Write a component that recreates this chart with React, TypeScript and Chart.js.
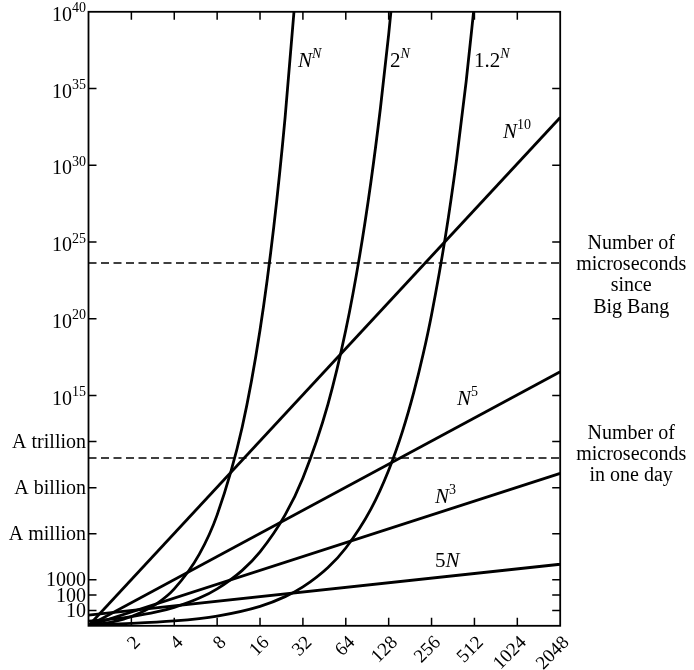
import { useEffect, useRef } from 'react';
import { Chart, registerables } from 'chart.js';

Chart.register(...registerables);

const FONT = '"Liberation Serif", "Times New Roman", serif';

// Axis ticks
const xTickValues = [2, 4, 8, 16, 32, 64, 128, 256, 512, 1024, 2048];
const xTickLabels = ['2', '4', '8', '16', '32', '64', '128', '256', '512', '1024', '2048'];
const yTickValues = [10, 100, 1000, 1e6, 1e9, 1e12, 1e15, 1e20, 1e25, 1e30, 1e35, 1e40];
const yTickLabels = ['10', '100', '1000', 'A million', 'A billion', 'A trillion', '10^15', '10^20', '10^25', '10^30', '10^35', '10^40'];

// Power functions (straight lines on log-log): values at N = 1 and N = 2048
const powerN = [1, 2048];
const fiveN = [5, 10240];
const nCubed = [1, 8.59e9];
const nFifth = [1, 3.6e16];
const nTenth = [1, 1.3e33];

// N^N
const nnN = [1, 1.5, 2, 3, 4, 6, 8, 12, 16, 20, 24, 28, 32];
const nnValues = [1, 1.84, 4, 27, 256, 46656, 1.68e7, 8.92e12, 1.84e19, 1.05e26, 1.33e33, 3.33e40, 1.46e48];

// 2^N
const twoN = [1, 1.5, 2, 3, 4, 6, 8, 12, 16, 24, 32, 48, 64, 80, 96, 112, 128, 144];
const twoValues = [2, 2.83, 4, 8, 16, 64, 256, 4096, 65536, 1.68e7, 4.29e9, 2.81e14, 1.84e19, 1.21e24, 7.92e28, 5.19e33, 3.4e38, 2.23e43];

// 1.2^N
const onePointTwoN = [1, 2, 4, 8, 16, 24, 32, 48, 64, 96, 128, 160, 192, 224, 256, 320, 384, 448, 512];
const onePointTwoValues = [1.2, 1.44, 2.07, 4.3, 18.5, 79.5, 342, 6320, 1.17e5, 3.99e7, 1.37e10, 4.67e12, 1.6e15, 5.45e17, 1.86e20, 2.18e25, 2.54e30, 2.96e35, 3.47e40];

// Reference lines
const bigBangMicroseconds = 4.3e23;
const dayMicroseconds = 8.64e10;
const bigBangLabel = ['Number of', 'microseconds', 'since', 'Big Bang'];
const dayLabel = ['Number of', 'microseconds', 'in one day'];

// Curve labels (anchored in data space: N, value)
const curveLabels = ['N^N', '2^N', '1.2^N', 'N^10', 'N^5', 'N^3', '5N'];
const curveLabelN = [29.6, 130.8, 508.5, 812.8, 386, 270.7, 270.7];
const curveLabelY = [2.5e36, 2.5e36, 2.5e36, 6.0e31, 2.4e14, 1.0e8, 6760];

type RichOpt = { size: number; supSize: number; raise: number; align: 'left' | 'right'; italicLetters: boolean };

function drawRich(ctx: CanvasRenderingContext2D, text: string, x: number, y: number, opt: RichOpt) {
  const idx = text.indexOf('^');
  const base = idx >= 0 ? text.slice(0, idx) : text;
  const sup = idx >= 0 ? text.slice(idx + 1) : '';
  const runs: { t: string; it: boolean; sup: boolean }[] = [];
  const split = (s: string, isSup: boolean) => {
    let cur = '';
    let curIt = false;
    for (const ch of s) {
      const it = opt.italicLetters && /[A-Za-z]/.test(ch);
      if (cur && it !== curIt) {
        runs.push({ t: cur, it: curIt, sup: isSup });
        cur = '';
      }
      cur += ch;
      curIt = it;
    }
    if (cur) runs.push({ t: cur, it: curIt, sup: isSup });
  };
  split(base, false);
  split(sup, true);
  const fontOf = (r: { it: boolean; sup: boolean }) =>
    `${r.it ? 'italic ' : ''}${r.sup ? opt.supSize : opt.size}px ${FONT}`;
  let total = 0;
  const widths = runs.map((r) => {
    ctx.font = fontOf(r);
    const w = ctx.measureText(r.t).width;
    total += w;
    return w;
  });
  let cx = opt.align === 'right' ? x - total : x;
  ctx.textAlign = 'left';
  ctx.textBaseline = 'alphabetic';
  runs.forEach((r, i) => {
    ctx.font = fontOf(r);
    ctx.fillText(r.t, cx, r.sup ? y - opt.raise : y);
    cx += widths[i];
  });
}

export default function App() {
  const ref = useRef<HTMLCanvasElement>(null);

  useEffect(() => {
    const canvas = ref.current;
    if (!canvas) return;
    const pts = (xs: number[], ys: number[]) => xs.map((x, i) => ({ x, y: ys[i] }));
    const curve = (label: string, data: { x: number; y: number }[]) => ({
      label,
      data,
      borderColor: '#000',
      borderWidth: 2.8,
      pointRadius: 0,
      fill: false,
      cubicInterpolationMode: 'monotone' as const,
    });
    const dashed = (label: string, v: number) => ({
      label,
      data: pts(powerN, [v, v]),
      borderColor: '#000',
      borderWidth: 1.5,
      borderDash: [8, 4.5],
      pointRadius: 0,
      fill: false,
    });

    const datasets = [
      curve('5N', pts(powerN, fiveN)),
      curve('N^3', pts(powerN, nCubed)),
      curve('N^5', pts(powerN, nFifth)),
      curve('N^10', pts(powerN, nTenth)),
      curve('N^N', pts(nnN, nnValues)),
      curve('2^N', pts(twoN, twoValues)),
      curve('1.2^N', pts(onePointTwoN, onePointTwoValues)),
      dashed('Big Bang', bigBangMicroseconds),
      dashed('One day', dayMicroseconds),
    ];

    const overlay = {
      id: 'overlay',
      afterDraw(chart: any) {
        const { ctx, chartArea } = chart;
        const { left, right, top, bottom } = chartArea;
        const xs = chart.scales.x;
        const ys = chart.scales.y;
        ctx.save();
        ctx.strokeStyle = '#000';
        ctx.fillStyle = '#000';
        // frame
        ctx.lineWidth = 1.8;
        ctx.strokeRect(left, top, right - left, bottom - top);
        // inward ticks
        ctx.lineWidth = 1.5;
        ctx.beginPath();
        xTickValues.forEach((v) => {
          if (v >= 2048) return;
          const px = xs.getPixelForValue(v);
          ctx.moveTo(px, bottom);
          ctx.lineTo(px, bottom - 8);
          ctx.moveTo(px, top);
          ctx.lineTo(px, top + 8);
        });
        yTickValues.forEach((v) => {
          if (v >= 1e40) return;
          const py = ys.getPixelForValue(v);
          ctx.moveTo(left, py);
          ctx.lineTo(left + 8, py);
          ctx.moveTo(right, py);
          ctx.lineTo(right - 8, py);
        });
        ctx.stroke();

        // x tick labels, rotated
        ctx.font = `19px ${FONT}`;
        ctx.textAlign = 'right';
        ctx.textBaseline = 'middle';
        xTickValues.forEach((v, i) => {
          const px = xs.getPixelForValue(v);
          ctx.save();
          ctx.translate(px + 6.3, bottom + 14);
          ctx.rotate(-Math.PI / 4);
          ctx.fillText(xTickLabels[i], 0, 0);
          ctx.restore();
        });

        // y tick labels
        yTickValues.forEach((v, i) => {
          const py = ys.getPixelForValue(v);
          const label = yTickLabels[i];
          const hasSup = label.includes('^');
          drawRich(ctx, label, left - 2.5, py + (hasSup ? 9 : 6.6), {
            size: 20,
            supSize: 14,
            raise: 8.5,
            align: 'right',
            italicLetters: false,
          });
        });

        // curve labels
        curveLabels.forEach((t, i) => {
          const px = xs.getPixelForValue(curveLabelN[i]);
          const py = ys.getPixelForValue(curveLabelY[i]);
          drawRich(ctx, t, px, py, { size: 21, supSize: 14, raise: 9.5, align: 'left', italicLetters: true });
        });

        // reference line annotations
        ctx.font = `20px ${FONT}`;
        ctx.textAlign = 'center';
        ctx.textBaseline = 'alphabetic';
        const cx = right + 71;
        const bb = ys.getPixelForValue(bigBangMicroseconds);
        bigBangLabel.forEach((t, i) => ctx.fillText(t, cx, bb - 14 + i * 21.2));
        const dy = ys.getPixelForValue(dayMicroseconds);
        dayLabel.forEach((t, i) => ctx.fillText(t, cx, dy - 19.4 + i * 21.3));
        ctx.restore();
      },
    };

    const chart = new Chart(canvas, {
      type: 'line',
      data: { datasets } as any,
      options: {
        animation: false,
        responsive: false,
        events: [],
        layout: { padding: { left: 88.5, right: 694 - 560.2, top: 11.8, bottom: 670 - 625.8 } },
        plugins: { legend: { display: false }, tooltip: { enabled: false } },
        scales: {
          x: { type: 'logarithmic', min: 1, max: 2048, display: false },
          y: { type: 'logarithmic', min: 1, max: 1e40, display: false },
        },
      },
      plugins: [overlay],
    });
    return () => chart.destroy();
  }, []);

  return (
    <div style={{ position: 'absolute', left: 0, top: 0, width: 694, height: 670, background: '#fff' }}>
      <canvas ref={ref} width={694} height={670} style={{ display: 'block' }} />
    </div>
  );
}
